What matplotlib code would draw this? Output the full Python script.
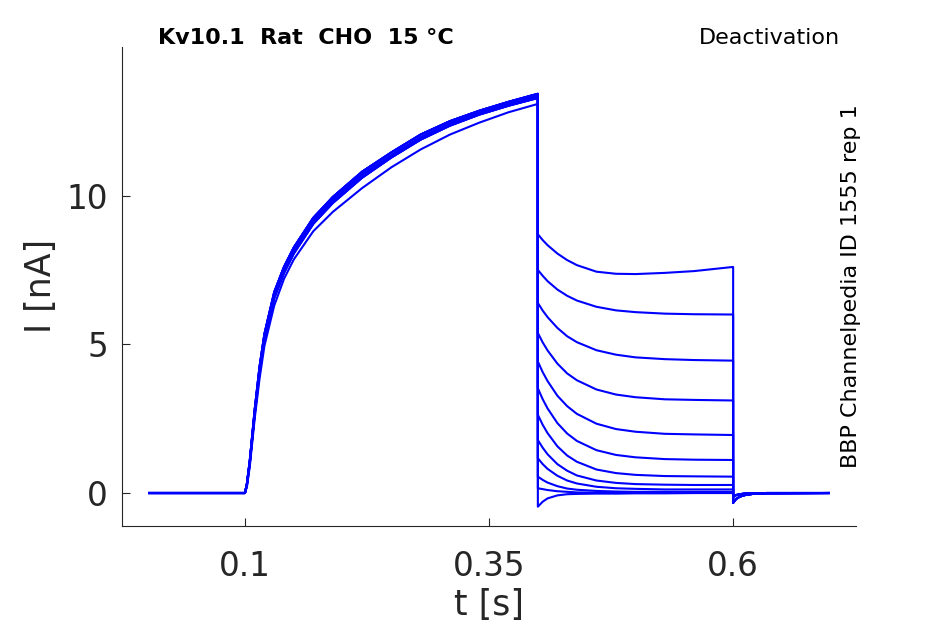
import matplotlib
matplotlib.use('Agg')
import matplotlib.pyplot as plt

# time samples (s)
t_start = 0.002
act_t = [0.100, 0.102, 0.105, 0.110, 0.115, 0.120, 0.130, 0.140, 0.150, 0.170,
         0.190, 0.220, 0.250, 0.280, 0.310, 0.340, 0.370, 0.400]
deact_t = [0.400, 0.405, 0.410, 0.420, 0.430, 0.440, 0.460, 0.480, 0.500,
           0.530, 0.560, 0.600]
tail_t = [0.600, 0.603, 0.607, 0.612, 0.620, 0.635, 0.698]

# activation phase (nA), a few nearly identical curves
act_high = [0, 0.3, 1.1, 2.8, 4.25, 5.35, 6.75, 7.6, 8.25, 9.25, 9.95, 10.8,
            11.45, 12.05, 12.5, 12.85, 13.15, 13.42]
act_mid = [0, 0.3, 1.05, 2.7, 4.15, 5.25, 6.65, 7.5, 8.15, 9.15, 9.85, 10.7,
           11.35, 11.95, 12.42, 12.78, 13.08, 13.35]
act_mid2 = [0, 0.25, 1.0, 2.65, 4.05, 5.15, 6.55, 7.4, 8.05, 9.05, 9.75, 10.6,
            11.28, 11.88, 12.35, 12.72, 13.02, 13.28]
act_low = [0, 0.2, 0.9, 2.5, 3.85, 4.95, 6.3, 7.2, 7.85, 8.8, 9.45, 10.25,
           10.95, 11.55, 12.05, 12.45, 12.8, 13.08]
act_per_sweep = [act_low, act_high, act_mid, act_high, act_mid2, act_mid,
                 act_high, act_mid2, act_mid, act_high, act_mid, act_mid2]

# deactivation steps (nA)
deact = [
    [8.70, 8.50, 8.33, 8.05, 7.83, 7.66, 7.44, 7.37, 7.36, 7.40, 7.46, 7.60],
    [7.50, 7.30, 7.12, 6.84, 6.63, 6.47, 6.26, 6.14, 6.08, 6.03, 6.01, 6.00],
    [6.39, 6.13, 5.91, 5.55, 5.27, 5.07, 4.80, 4.65, 4.56, 4.50, 4.47, 4.45],
    [5.38, 5.06, 4.79, 4.35, 4.02, 3.79, 3.48, 3.31, 3.22, 3.15, 3.13, 3.11],
    [4.42, 4.06, 3.76, 3.27, 2.92, 2.66, 2.33, 2.15, 2.06, 1.99, 1.97, 1.95],
    [3.52, 3.15, 2.84, 2.35, 2.00, 1.75, 1.44, 1.28, 1.20, 1.14, 1.12, 1.11],
    [2.63, 2.29, 2.01, 1.57, 1.26, 1.05, 0.79, 0.67, 0.61, 0.57, 0.56, 0.55],
    [1.78, 1.52, 1.30, 0.97, 0.75, 0.59, 0.42, 0.34, 0.30, 0.28, 0.27, 0.27],
    [1.17, 0.97, 0.81, 0.58, 0.42, 0.32, 0.21, 0.16, 0.14, 0.12, 0.12, 0.12],
    [0.55, 0.44, 0.35, 0.23, 0.15, 0.11, 0.07, 0.05, 0.04, 0.04, 0.04, 0.04],
    [0.16, 0.13, 0.10, 0.06, 0.04, 0.02, 0.01, 0.00, 0.00, 0.00, 0.00, 0.00],
    [-0.46, -0.29, -0.18, -0.08, -0.04, -0.03, -0.02, -0.02, -0.01, -0.01, 0.00, 0.00],
]

tail_big = [-0.33, -0.20, -0.12, -0.07, -0.03, -0.01, 0.0]
tail_small = [-0.12, -0.07, -0.04, -0.02, -0.01, 0.0, 0.0]

xticks = [0.1, 0.35, 0.6]
yticks = [0, 5, 10]

fig = plt.figure(figsize=(9.45, 6.24), dpi=100)
ax = fig.add_axes([0.129, 0.157, 0.777, 0.768])

for i, d in enumerate(deact):
    tail = tail_big if i < 6 else tail_small
    t = [t_start] + act_t + deact_t + tail_t
    y = [0] + act_per_sweep[i] + d + tail
    ax.plot(t, y, color='#0000ff', lw=1.5)

ax.set_xlim(-0.026, 0.726)
ax.set_ylim(-1.11, 15.0)
ax.set_xticks(xticks)
ax.set_xticklabels(['0.1', '0.35', '0.6'])
ax.set_yticks(yticks)
ax.tick_params(direction='in', labelsize=23.5, colors='#262626', length=6,
               width=0.8)
ax.tick_params(axis='x', pad=17)
ax.tick_params(axis='y', pad=10)
for side in ['top', 'right']:
    ax.spines[side].set_visible(False)
for side in ['left', 'bottom']:
    ax.spines[side].set_color('#262626')
    ax.spines[side].set_linewidth(0.8)

ax.set_xlabel('t [s]', fontsize=25, color='#262626', labelpad=4)
ax.set_ylabel('I [nA]', fontsize=25, color='#262626', labelpad=6)

ax.text(0.049, 1.005, 'Kv10.1  Rat  CHO  15 °C', transform=ax.transAxes,
        fontsize=16, fontweight='bold', ha='left', va='baseline')
ax.text(0.978, 1.005, 'Deactivation', transform=ax.transAxes,
        fontsize=16, ha='right', va='baseline')
ax.text(0.993, 0.5, 'BBP Channelpedia ID 1555 rep 1', transform=ax.transAxes,
        fontsize=16, rotation=90, ha='center', va='center')

fig.savefig('out.png', dpi=100)
